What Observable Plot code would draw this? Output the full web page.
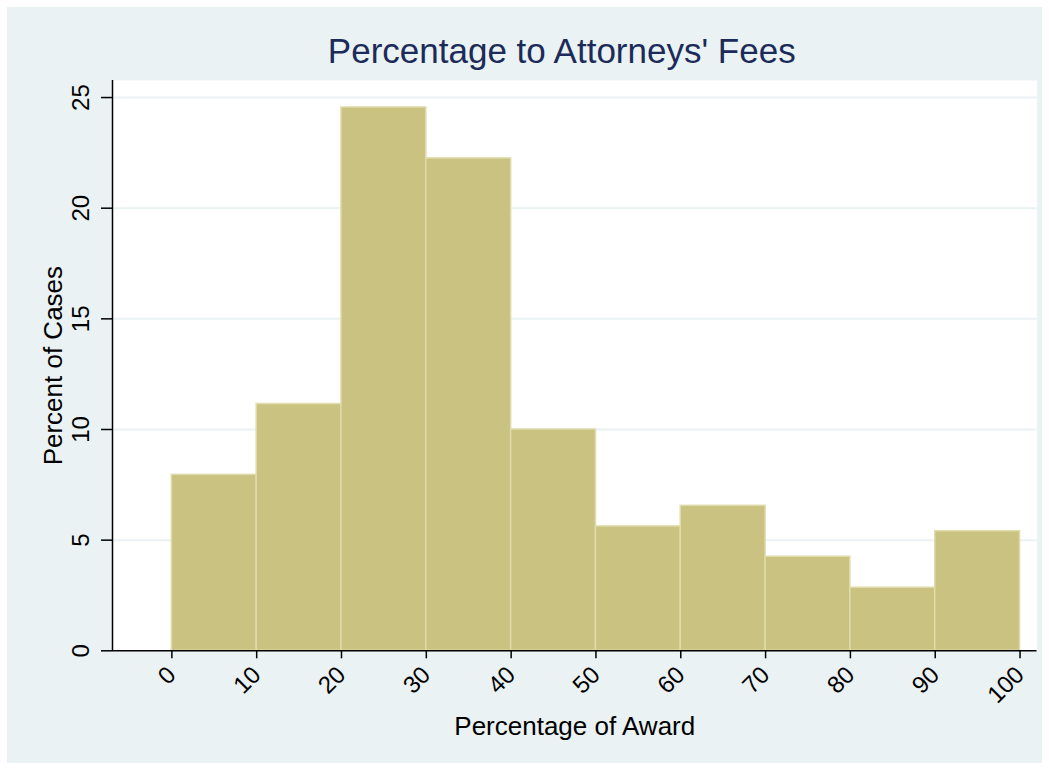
<!DOCTYPE html>
<html><head><meta charset="utf-8">
<script src="https://cdn.jsdelivr.net/npm/d3@7"></script>
<script src="https://cdn.jsdelivr.net/npm/@observablehq/plot@0.6"></script>
<style>
html,body{margin:0;padding:0;background:#ffffff;}
#wrap{position:absolute;left:7px;top:7px;width:1035px;height:756px;background:#eaf2f3;}
</style></head><body><div id="wrap"></div>
<script>
const binStart = [0, 10, 20, 30, 40, 50, 60, 70, 80, 90];
const binEnd = [10, 20, 30, 40, 50, 60, 70, 80, 90, 100];
const percentOfCases = [7.95, 11.15, 24.55, 22.25, 10.0, 5.62, 6.55, 4.25, 2.85, 5.4];
const xTicks = [0, 10, 20, 30, 40, 50, 60, 70, 80, 90, 100];
const yTicks = [0, 5, 10, 15, 20, 25];
const titleText = "Percentage to Attorneys' Fees";
const xLabel = "Percentage of Award";
const yLabel = "Percent of Cases";
const xDomain = [-7, 102];
const yDomain = [0, 25.77];

const bars = binStart.map((s, i) => ({x1: s, x2: binEnd[i], pct: percentOfCases[i]}));

const font = "'Liberation Sans', Arial, Helvetica, sans-serif";
const bg = "#eaf2f3";

const chart = Plot.plot({
  width: 1035,
  height: 756,
  marginLeft: 105,
  marginTop: 73,
  marginRight: 5.5,
  marginBottom: 112.7,
  style: {fontFamily: font, background: "transparent", overflow: "visible", color: "#000"},
  x: {domain: xDomain},
  y: {domain: yDomain},
  marks: [
    Plot.frame({fill: "white", stroke: null}),
    Plot.gridY(yTicks.filter(d => d > 0), {stroke: bg, strokeOpacity: 1, strokeWidth: 2}),
    Plot.rect(bars, {x1: "x1", x2: "x2", y1: 0, y2: "pct", fill: "#cac281", stroke: "#dfdbaa", strokeWidth: 1.5}),
    Plot.ruleY([0], {stroke: "#000", strokeWidth: 1.5}),
    Plot.ruleX([xDomain[0]], {stroke: "#000", strokeWidth: 1.5}),
    Plot.axisY(yTicks, {tickSize: 11, tickPadding: 13, tickRotate: -90, textAnchor: "middle", lineAnchor: "bottom", fontSize: 24, label: null, strokeWidth: 1.5}),
    Plot.axisX(xTicks, {tickSize: 8, tickPadding: 12, tickRotate: -45, textAnchor: "end", lineAnchor: "middle", fontSize: 24, label: null, strokeWidth: 1.5}),
    Plot.text([titleText], {frameAnchor: "top", text: d => d, dx: -13, dy: -42, fontSize: 35, fill: "#1c2b59"}),
    Plot.text([xLabel], {frameAnchor: "bottom", text: d => d, dy: 84, fontSize: 26, fill: "#000"}),
    Plot.text([yLabel], {frameAnchor: "left", text: d => d, dx: -59, rotate: -90, textAnchor: "middle", fontSize: 26, fill: "#000"})
  ]
});
document.getElementById("wrap").appendChild(chart);
</script>
</body></html>
